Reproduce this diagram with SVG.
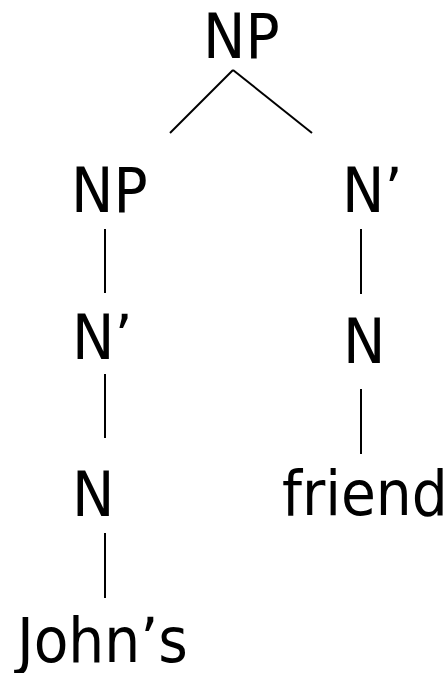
<svg xmlns="http://www.w3.org/2000/svg" width="448" height="673" viewBox="0 0 448 673">
<style>
text{font-family:"DejaVu Sans Condensed","DejaVu Sans",sans-serif;font-stretch:condensed;font-size:63px;fill:#000}
.e{stroke:#000;stroke-width:2;fill:none}
</style>
<rect width="448" height="673" fill="#fff"/>
<g id="connectors">
<line class="e" x1="233" y1="70" x2="170" y2="133"/>
<line class="e" x1="233" y1="70" x2="312" y2="133"/>
<line class="e" x1="105" y1="229" x2="105" y2="293"/>
<line class="e" x1="105" y1="374" x2="105" y2="438"/>
<line class="e" x1="105" y1="533" x2="105" y2="598"/>
<line class="e" x1="361" y1="229" x2="361" y2="294"/>
<line class="e" x1="361" y1="389" x2="361" y2="454"/>
</g>
<g id="np-root"><text x="203" y="58">NP</text></g>
<g id="np-left"><text x="71" y="212">NP</text></g>
<g id="nbar-right"><text x="342" y="212">N’</text></g>
<g id="nbar-left"><text x="72" y="359">N’</text></g>
<g id="n-right"><text x="343" y="363">N</text></g>
<g id="n-left"><text x="72" y="516">N</text></g>
<g id="friend"><text x="282" y="515">friend</text></g>
<g id="johns"><text x="17" y="662">John’s</text></g>
</svg>
